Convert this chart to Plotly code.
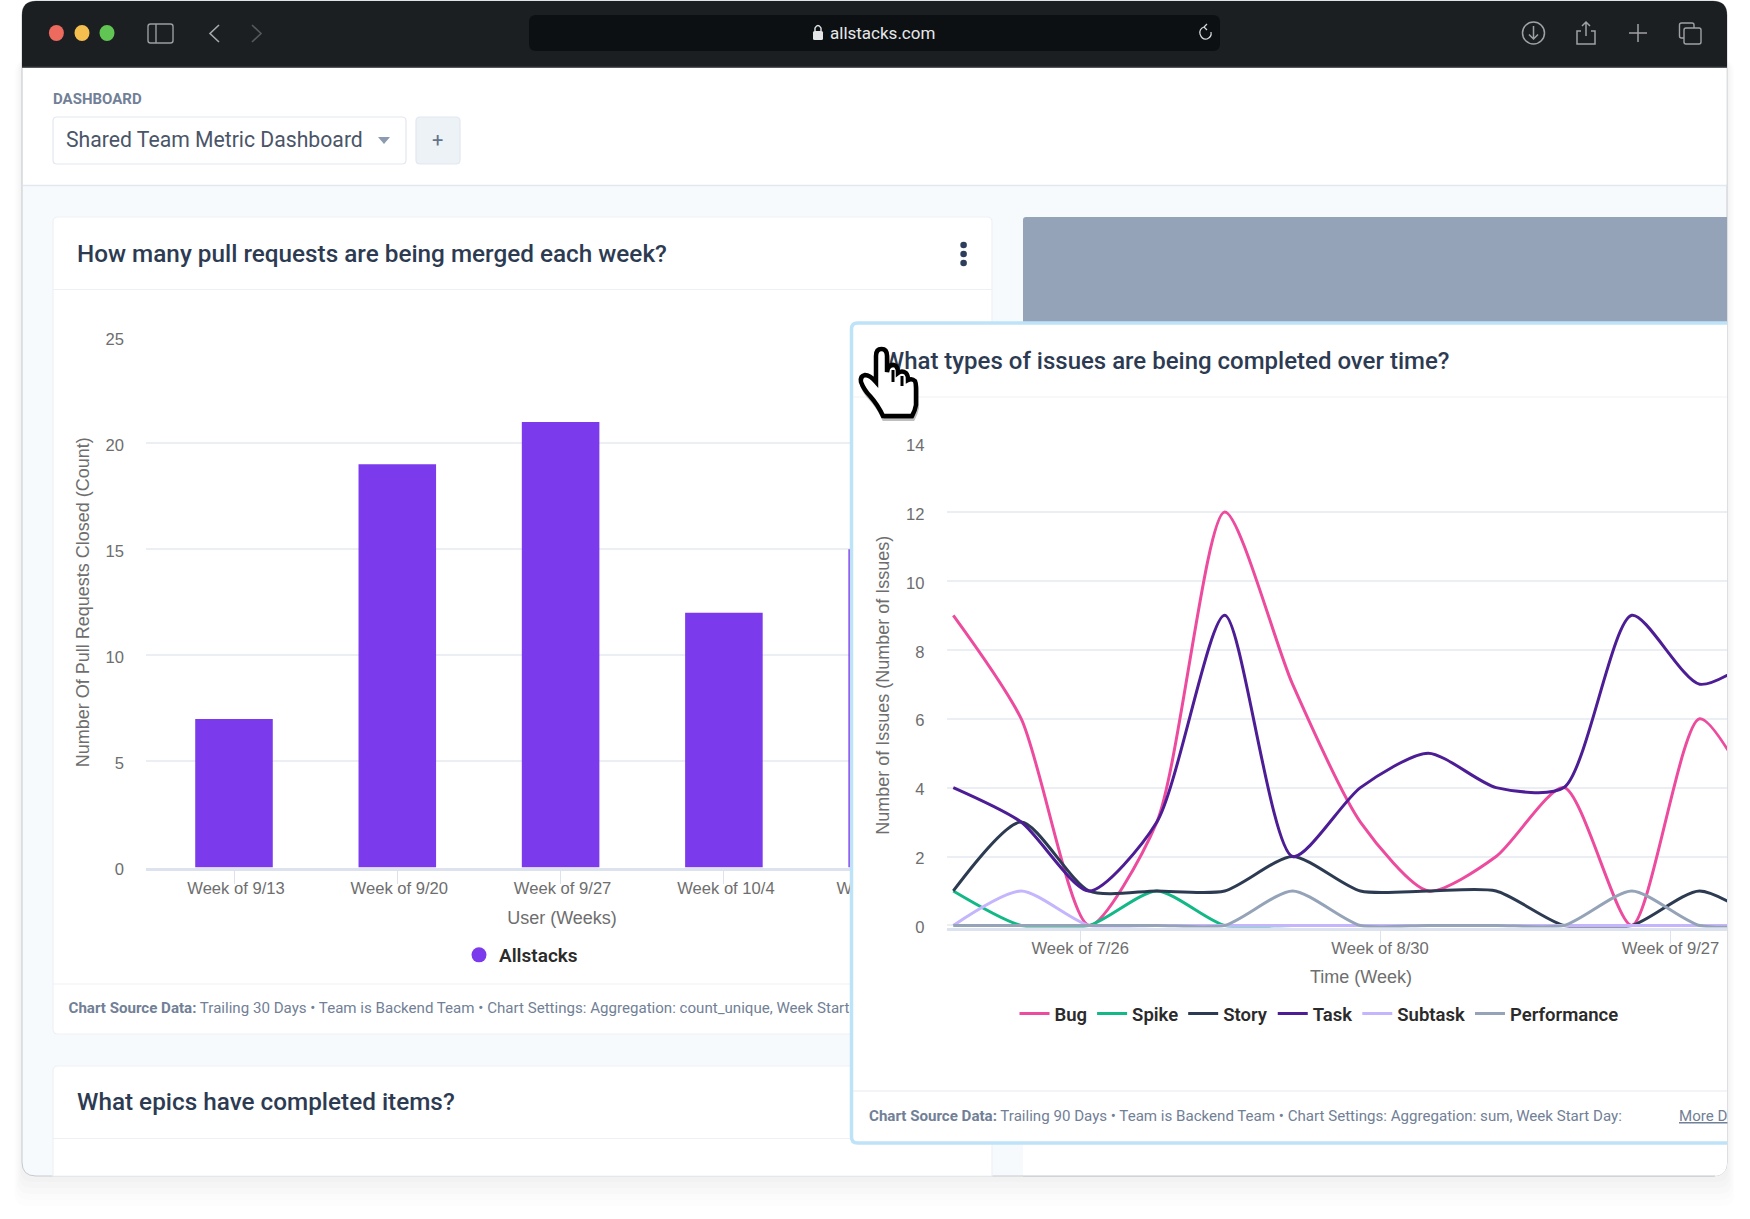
import re
import plotly.graph_objects as go

# ---------- data ----------
pr_weeks = ["Week of 9/13", "Week of 9/20", "Week of 9/27", "Week of 10/4", "Week of 10/11"]
pr_counts = [7, 19, 21, 12, 15]
issue_index = list(range(13))
bug = [9, 6, 0, 3, 12, 7, 3, 1, 2, 4, 0, 6, 3]
spike = [1, 0, 0, 1, 0, 0, 0, 0, 0, 0, 0, 0, 0]
story = [1, 3, 1, 1, 1, 2, 1, 1, 1, 0, 0, 1, 0]
task = [4, 3, 1, 3, 9, 2, 4, 5, 4, 4, 9, 7, 8]
subtask = [0, 1, 0, 0, 0, 0, 0, 0, 0, 0, 0, 0, 0]
performance = [0, 0, 0, 0, 0, 1, 0, 0, 0, 0, 1, 0, 0]
issue_tick_pos = [1.87, 6.29, 10.57]
issue_tick_labels = ["Week of 7/26", "Week of 8/30", "Week of 9/27"]

W, H = 1750, 1219
FONT = "Roboto"
ARIAL = "Liberation Sans"
# subplot frames in page pixels
L_X0, L_X1, L_Y0, L_Y1 = 146, 978, 337, 867.5
R_X0, R_X1, R_Y0, R_Y1 = 946.5, 1727, 443, 927.5
# frame of the empty subplot that holds the floating card (between the two charts)
M_X0, M_X1, M_Y0, M_Y1 = 848, 1727, 320, 1146


def px(x):
    return x / W


def py(y):
    return 1 - y / H


def conv(path, fx, fy):
    return re.sub(r"(-?[\d.]+),(-?[\d.]+)", lambda m: f"{fx(float(m[1])):.5f},{fy(float(m[2])):.5f}", path)


def rr(x0, y0, x1, y1, r, corners="tl tr br bl"):
    c = corners.split()
    s = f"M{x0+(r if 'tl' in c else 0)},{y0} L{x1-(r if 'tr' in c else 0)},{y0} "
    if "tr" in c:
        s += f"Q{x1},{y0} {x1},{y0+r} "
    s += f"L{x1},{y1-(r if 'br' in c else 0)} "
    if "br" in c:
        s += f"Q{x1},{y1} {x1-r},{y1} "
    s += f"L{x0+(r if 'bl' in c else 0)},{y1} "
    if "bl" in c:
        s += f"Q{x0},{y1} {x0},{y1-r} "
    s += f"L{x0},{y0+(r if 'tl' in c else 0)} "
    if "tl" in c:
        s += f"Q{x0},{y0} {x0+r},{y0} "
    return s + "Z"


shapes = []
annots = []


def pshape(path, fill="rgba(0,0,0,0)", line=None, lw=1, layer="below"):
    shapes.append(dict(type="path", xref="paper", yref="paper", layer=layer,
                       path=conv(path, px, py), fillcolor=fill,
                       line=dict(color=line or "rgba(0,0,0,0)", width=lw if line else 0)))


def ov(path, fill="rgba(0,0,0,0)", line=None, lw=1):
    # lives in the empty middle subplot: above the PR chart, below the issues chart
    fx = lambda v: (v - M_X0) / (M_X1 - M_X0)
    fy = lambda v: (M_Y1 - v) / (M_Y1 - M_Y0)
    shapes.append(dict(type="path", xref="x2", yref="y2", layer="below",
                       path=conv(path, fx, fy), fillcolor=fill,
                       line=dict(color=line or "rgba(0,0,0,0)", width=lw if line else 0)))


def lab(x, y, text, size, color, layer="below", weight=400):
    shapes.append(dict(type="rect", xref="paper", yref="paper", layer=layer,
                       x0=px(x), x1=px(x + 10), y0=py(y + 5), y1=py(y - 5),
                       fillcolor="rgba(0,0,0,0)", line=dict(width=0),
                       label=dict(text=text, textposition="middle left", padding=0,
                                  font=dict(family=FONT, size=size, color=color, weight=weight))))


def txt(x, y, text, size, color, anchor="left", weight=400, family=FONT):
    annots.append(dict(xref="paper", yref="paper", x=px(x), y=py(y), text=text, showarrow=False,
                       xanchor=anchor, yanchor="middle", borderpad=0, borderwidth=0,
                       font=dict(family=family, size=size, color=color, weight=weight)))


# ---------- window shadow ----------
for g, a in [(30, 0.006), (24, 0.008), (18, 0.010), (12, 0.010), (6, 0.012)]:
    pshape(rr(22 - g * 0.25, 60, 1727 + g * 0.25, 1176 + g, 12), f"rgba(0,0,0,{a})")

# ---------- window ----------
pshape(rr(22, 1, 1727, 1176, 14), "#F7FAFC", "#C6C9CE", 1)
pshape(rr(23, 67, 1726.5, 185, 1), "#FFFFFF")
pshape("M23,185.5 L1726.5,185.5", line="#E2E8F0", lw=1.5)
pshape(rr(22, 1, 1727, 67, 14, "tl tr"), "#1C1F22")
pshape("M22,67.3 L1727,67.3", line="#55585C", lw=1.2)
for x, c in zip([56.4, 82, 107], ["#ED6A5E", "#F4BF4F", "#61C554"]):
    shapes.append(dict(type="circle", xref="paper", yref="paper", layer="below",
                       x0=px(x - 7.5), x1=px(x + 7.5), y0=py(41), y1=py(25), fillcolor=c, line=dict(width=0)))
pshape(rr(148, 24, 173, 43, 2.5), line="#9A9DA0", lw=1.4)
pshape("M156,24 L156,43", line="#9A9DA0", lw=1.4)
pshape("M219,25 L210,33.5 L219,42", line="#A6A8AB", lw=1.6)
pshape("M252,25 L261,33.5 L252,42", line="#55585C", lw=1.6)
pshape(rr(529, 15, 1220, 51, 7), "#0C1013")
pshape(rr(813, 31, 823, 40, 1.5), "#E4E5E6")
pshape("M815,31 L815,28 Q818,23 821,28 L821,31", line="#E4E5E6", lw=1.4)
txt(830, 33, "allstacks.com", 17, "#E6E7E8")
pshape("M1204,27 Q1199,29 1200,34 Q1202,40 1207,39 Q1212,37 1211,32 M1204,27 L1207,24 M1204,27 L1207,30",
       line="#D8D9DA", lw=1.2)
shapes.append(dict(type="circle", xref="paper", yref="paper", layer="below", x0=px(1522.5), x1=px(1544.5),
                   y0=py(44), y1=py(22), line=dict(color="#9FA1A4", width=1.5)))
pshape("M1533.5,26 L1533.5,39 M1529,34.5 L1533.5,39 L1538,34.5", line="#9FA1A4", lw=1.5)
pshape("M1581,31 L1577,31 L1577,44 L1595,44 L1595,31 L1591,31 M1586,22 L1586,36 M1582,26 L1586,22 L1590,26",
       line="#9FA1A4", lw=1.5)
pshape("M1638,24 L1638,42 M1629,33 L1647,33", line="#9FA1A4", lw=1.5)
pshape(rr(1679.5, 23, 1694, 38, 2), line="#9FA1A4", lw=1.4)
pshape(rr(1684, 28, 1701, 44, 2), "#1C1F22", "#9FA1A4", 1.4)

# ---------- header controls ----------
txt(53, 99.5, "DASHBOARD", 15, "#718096", weight=700)
pshape(rr(53, 117, 406, 164, 4), "#FFFFFF", "#E2E8F0", 1.2)
txt(66, 139.5, "Shared Team Metric Dashboard", 21.2, "#4A5568")
pshape("M378,137 L390,137 L384,144 Z", "#8D9BB0")
pshape(rr(416, 117, 460, 164, 4), "#EDF2F7", "#E2E8F0", 1.2)
txt(437.5, 140, "+", 20, "#64748B", anchor="center")

# ---------- left cards ----------
pshape(rr(53, 217, 992, 1034, 5), "#FFFFFF", "#EDF1F6", 1.2)
pshape("M53,289.5 L992,289.5", line="#EDF1F6", lw=1.2)
pshape("M53,984 L992,984", line="#EDF1F6", lw=1.2)
txt(77, 254, "How many pull requests are being merged each week?", 24.3, "#2D3B52", weight=500)
for y in [245, 254, 263]:
    shapes.append(dict(type="circle", xref="paper", yref="paper", layer="below",
                       x0=px(960.3), x1=px(966.9), y0=py(y + 3.3), y1=py(y - 3.3), fillcolor="#2D3E5C", line=dict(width=0)))
lab(65.5, 1007,
    "<b>Chart Source Data:</b> Trailing 30 Days • Team is Backend Team • Chart Settings: Aggregation: "
    "count_unique, Week Start Day: Monday", 15.1, "#718096")
pshape(rr(53, 1066, 992, 1176, 5, "tl tr"), "#FFFFFF", "#EDF1F6", 1.2)
pshape("M53,1138.5 L992,1138.5", line="#EDF1F6", lw=1.2)
txt(77, 1101, "What epics have completed items?", 24.3, "#2D3B52", weight=500)

# ---------- right column background ----------
pshape(rr(1023, 217, 1727, 400, 3, "tl"), "#95A3B9")
pshape(rr(1023, 1120, 1727, 1176, 14, "br"), "#FFFFFF")
pshape("M1023,1176 L1715,1176", line="#C6C9CE", lw=1)

# ---------- floating card ----------
ov(rr(851.5, 323, 1730, 1143, 6, "tl bl"), "#FFFFFF", "#BEE3F8", 3.5)
ov("M853,397 L1727,397", line="#EDF1F6", lw=1.2)
ov("M853,1091 L1727,1091", line="#E6EAF0", lw=1.2)

lab(880, 359, "What types of issues are being completed over time?", 24, "#2D3B52", layer="above", weight=500)
txt(869, 1115.5, "<b>Chart Source Data:</b> Trailing 90 Days • Team is Backend Team • Chart Settings: "
                 "Aggregation: sum, Week Start Day:", 15.1, "#718096")
txt(1679, 1115.5, "<u>More D</u>", 15.1, "#718096")
txt(1361, 976.5, "Time (Week)", 18, "#6E6E6E", anchor="center", family=ARIAL)

# ---------- hand cursor ----------
hand = ("M876,382 L876,356 Q876,349 881.5,349 Q887,349 887,356 L887,372 L888,368 Q892,363 896,366 "
        "Q898,368 898,373 Q902,370 906,373 Q908,375 908,380 Q912,378 915,381 Q916,383 916,388 L916,405 "
        "Q915,411 912,416 L883,416 Q878,405 870,396 Q864,390 861,382 Q860,376 865,375 Q870,375 876,382 Z")
shadow = re.sub(r"(-?[\d.]+),(-?[\d.]+)", lambda m: f"{float(m[1])+1},{float(m[2])+3}", hand)
pshape(shadow, "rgba(0,0,0,0.25)", "rgba(0,0,0,0.25)", 4, layer="above")
pshape(hand, "#FFFFFF", "#000000", 4.5, layer="above")
pshape("M893,370 L893,382 M902,376 L902,386", line="#000000", lw=3, layer="above")

# ---------- traces ----------
fig = go.Figure()
BAR = "#7C3AED"
fig.add_trace(go.Bar(x=pr_weeks, y=pr_counts, marker=dict(color=BAR, line=dict(width=0)), width=0.475,
                     showlegend=False, xaxis="x", yaxis="y"))
fig.add_trace(go.Scatter(x=pr_weeks[:1], y=[None], mode="markers", name="Allstacks",
                         marker=dict(color=BAR, size=15), xaxis="x", yaxis="y", legend="legend"))
order = [("Bug", bug, "#ED4B9E"), ("Spike", spike, "#12B886"), ("Story", story, "#2D3B52"),
         ("Task", task, "#4C1D95"), ("Subtask", subtask, "#C4B5FD"), ("Performance", performance, "#94A3B8")]
for name, vals, col in order:
    fig.add_trace(go.Scatter(x=issue_index, y=vals, name=name, mode="lines",
                             line=dict(color=col, width=3, shape="spline", smoothing=0.7),
                             xaxis="x3", yaxis="y3", legend="legend2"))

tickfont = dict(family=ARIAL, size=16.6, color="#6E6E6E")
titlefont = dict(family=ARIAL, size=18, color="#6E6E6E")
GRID = "#EBEEF2"
AX = "#DCE3EF"

fig.update_layout(
    width=W, height=H, autosize=False, margin=dict(l=0, r=0, t=0, b=0, autoexpand=False),
    paper_bgcolor="#FFFFFF", plot_bgcolor="rgba(0,0,0,0)", bargap=0.5,
    shapes=shapes, annotations=annots, hovermode=False,
    xaxis=dict(domain=[px(L_X0), px(L_X1)], anchor="y", type="category",
               range=[(L_X0 - 234) / 163.3, (L_X1 - 234) / 163.3],
               showgrid=False, showline=True, linecolor=AX, linewidth=2.5,
               ticks="outside", ticklen=14, tickcolor=AX, tickwidth=1.2, tickfont=tickfont,
               ticklabelstandoff=-10, ticklabelshift=2,
               title=dict(text="User (Weeks)", font=titlefont, standoff=15)),
    yaxis=dict(domain=[py(L_Y1), py(L_Y0)], anchor="x", range=[0, 25], tickvals=[0, 5, 10, 15, 20, 25],
               showgrid=True, gridcolor=GRID, gridwidth=1.5, showline=False, zeroline=False,
               tickfont=tickfont, ticklabelstandoff=21, ticklabelshift=2,
               title=dict(text="Number Of Pull Requests Closed (Count)", font=titlefont, standoff=11)),
    xaxis2=dict(domain=[px(M_X0), px(M_X1)], anchor="y2", range=[0, 1], visible=False),
    yaxis2=dict(domain=[py(M_Y1), py(M_Y0)], anchor="x2", range=[0, 1], visible=False),
    xaxis3=dict(domain=[px(R_X0), px(R_X1)], anchor="y3", type="linear",
                range=[(R_X0 - 953.3) / 67.85, (R_X1 - 953.3) / 67.85],
                tickmode="array", tickvals=issue_tick_pos, ticktext=issue_tick_labels,
                showgrid=False, showline=True, linecolor=AX, linewidth=2.5, zeroline=False,
                ticks="outside", ticklen=14, tickcolor=AX, tickwidth=1.2, tickfont=tickfont,
                ticklabelstandoff=-10),
    yaxis3=dict(domain=[py(R_Y1), py(R_Y0)], anchor="x3", range=[-0.06, 14], tickvals=list(range(0, 15, 2)),
                showgrid=True, gridcolor=GRID, gridwidth=1.5, showline=False, zeroline=False,
                tickfont=tickfont, ticklabelstandoff=21, ticklabelshift=2,
                title=dict(text="Number of Issues (Number of Issues)", font=titlefont, standoff=11)),
    legend=dict(x=px(459), y=py(955), xanchor="left", yanchor="middle", bgcolor="rgba(0,0,0,0)",
                font=dict(family=FONT, size=19, color="#2B2B2B", weight=600), itemclick=False, itemdoubleclick=False),
    legend2=dict(orientation="h", x=px(1319), y=py(1014), xanchor="center", yanchor="middle", bgcolor="rgba(0,0,0,0)",
                 font=dict(family=FONT, size=18.5, color="#2B2B2B", weight=600), itemclick=False, itemdoubleclick=False),
)

fig.write_html("out.html", config=dict(displayModeBar=False),
               post_script="document.body.style.margin='0';document.body.style.overflow='hidden';")
